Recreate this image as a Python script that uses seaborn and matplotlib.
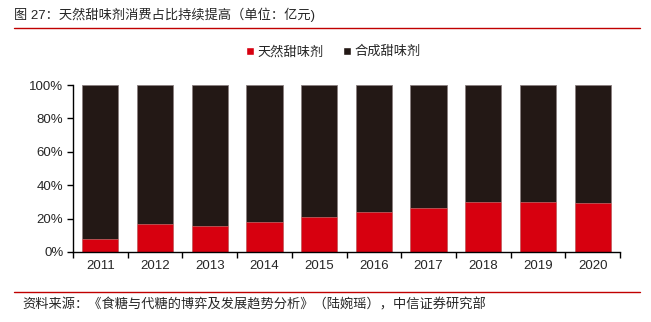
import matplotlib
matplotlib.use("Agg")
import matplotlib.pyplot as plt
import seaborn as sns
import pandas as pd
import numpy as np
from matplotlib.lines import Line2D

years = ["2011", "2012", "2013", "2014", "2015", "2016", "2017", "2018", "2019", "2020"]
natural = [7.8, 17.0, 15.8, 17.8, 21.0, 24.0, 26.1, 29.7, 30.0, 29.1]
synthetic = [100 - v for v in natural]
y_ticks = [0, 20, 40, 60, 80, 100]
y_labels = ["0%", "20%", "40%", "60%", "80%", "100%"]

RED = "#D7000F"
DARK = "#231815"

sns.set_theme(style="white")
plt.rcParams["font.family"] = ["Liberation Sans", "Noto Sans CJK SC", "DejaVu Sans"]

df = pd.DataFrame({"year": years, "natural": natural, "synthetic": synthetic})
df["total"] = df["natural"] + df["synthetic"]

fig = plt.figure(figsize=(6.51, 3.22), dpi=100)
ax = fig.add_axes([73 / 651, (322 - 252) / 322, (620 - 73) / 651, (252 - 85) / 322])

sns.barplot(data=df, x="year", y="total", color=DARK, width=0.66, ax=ax,
            edgecolor="#8a7f7f", linewidth=0.6, saturation=1)
sns.barplot(data=df, x="year", y="natural", color=RED, width=0.66, ax=ax,
            edgecolor="#e08080", linewidth=0.4, saturation=1)

ax.set_xlim(-0.5, len(years) - 0.5)
ax.set_ylim(0, 100)
ax.set_yticks(y_ticks)
ax.set_yticklabels(y_labels, fontsize=9.5)
ax.set_xlabel("")
ax.set_ylabel("")
ax.tick_params(axis="x", which="major", length=0, labelsize=9.5, pad=6)
ax.set_xticks(np.arange(-0.5, len(years), 1.0), minor=True)
ax.tick_params(axis="x", which="minor", length=4, width=1, color="black", direction="out", bottom=True)
ax.tick_params(axis="y", length=4, width=1, color="black", direction="out", left=True, pad=3)
for s in ["top", "right"]:
    ax.spines[s].set_visible(False)
for s in ["left", "bottom"]:
    ax.spines[s].set_color("black")
    ax.spines[s].set_linewidth(1)

handles = [
    Line2D([0], [0], marker="s", color="w", markerfacecolor=RED, markersize=6, linestyle="None"),
    Line2D([0], [0], marker="s", color="w", markerfacecolor=DARK, markersize=6, linestyle="None"),
]
fig.legend(handles, ["天然甜味剂", "合成甜味剂"], loc="center", bbox_to_anchor=(332 / 651, 1 - 52 / 322),
           ncol=2, frameon=False, fontsize=9.5, handletextpad=0.1, columnspacing=1.2, handlelength=1.0)

fig.text(14 / 651, 1 - 15 / 322, "图 27：天然甜味剂消费占比持续提高（单位：亿元)", fontsize=9.5,
         ha="left", va="center")
fig.add_artist(Line2D([14 / 651, 640 / 651], [1 - 28 / 322, 1 - 28 / 322], color="#C00000", linewidth=1))
fig.add_artist(Line2D([14 / 651, 640 / 651], [1 - 292 / 322, 1 - 292 / 322], color="#C00000", linewidth=1))
fig.text(22 / 651, 1 - 305 / 322, "资料来源：《食糖与代糖的博弈及发展趋势分析》（陆婉瑶），中信证券研究部", fontsize=9.5,
         ha="left", va="center")

fig.savefig("out.png", dpi=100)
